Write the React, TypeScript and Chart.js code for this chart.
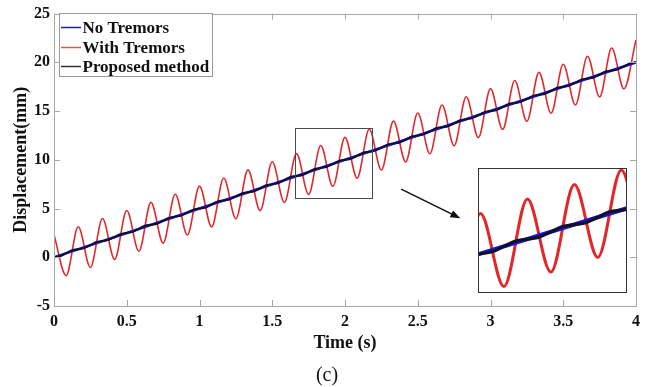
import { useEffect, useRef } from 'react';
import { Chart, registerables } from 'chart.js';

Chart.register(...registerables);

// Sample times (s) of the tremor peaks / troughs
const redTime = [
  0, 0.0833, 0.1667, 0.25, 0.3333, 0.4167, 0.5, 0.5833, 0.6667, 0.75, 0.8333, 0.9167,
  1, 1.0833, 1.1667, 1.25, 1.3333, 1.4167, 1.5, 1.5833, 1.6667, 1.75, 1.8333, 1.9167,
  2, 2.0833, 2.1667, 2.25, 2.3333, 2.4167, 2.5, 2.5833, 2.6667, 2.75, 2.8333, 2.9167,
  3, 3.0833, 3.1667, 3.25, 3.3333, 3.4167, 3.5, 3.5833, 3.6667, 3.75, 3.8333, 3.9167,
  4,
];
// With Tremors (mm)
const withTremors = [
  2.3, -1.88, 3.13, -1.05, 3.97, -0.22, 4.8, 0.62, 5.63, 1.45, 6.47, 2.28,
  7.3, 3.12, 8.13, 3.95, 8.97, 4.78, 9.8, 5.62, 10.63, 6.45, 11.47, 7.28,
  12.3, 8.12, 13.13, 8.95, 13.97, 9.78, 14.8, 10.62, 15.63, 11.45, 16.47, 12.28,
  17.3, 13.12, 18.13, 13.95, 18.97, 14.78, 19.8, 15.62, 20.63, 16.45, 21.47, 17.28,
  22.3,
];

// Sample times (s) of the proposed-method estimate
const fineTime = [
  0, 0.0417, 0.0833, 0.125, 0.1667, 0.2083, 0.25, 0.2917, 0.3333, 0.375, 0.4167, 0.4583,
  0.5, 0.5417, 0.5833, 0.625, 0.6667, 0.7083, 0.75, 0.7917, 0.8333, 0.875, 0.9167, 0.9583,
  1, 1.0417, 1.0833, 1.125, 1.1667, 1.2083, 1.25, 1.2917, 1.3333, 1.375, 1.4167, 1.4583,
  1.5, 1.5417, 1.5833, 1.625, 1.6667, 1.7083, 1.75, 1.7917, 1.8333, 1.875, 1.9167, 1.9583,
  2, 2.0417, 2.0833, 2.125, 2.1667, 2.2083, 2.25, 2.2917, 2.3333, 2.375, 2.4167, 2.4583,
  2.5, 2.5417, 2.5833, 2.625, 2.6667, 2.7083, 2.75, 2.7917, 2.8333, 2.875, 2.9167, 2.9583,
  3, 3.0417, 3.0833, 3.125, 3.1667, 3.2083, 3.25, 3.2917, 3.3333, 3.375, 3.4167, 3.4583,
  3.5, 3.5417, 3.5833, 3.625, 3.6667, 3.7083, 3.75, 3.7917, 3.8333, 3.875, 3.9167, 3.9583,
  4,
];
// Proposed method (mm)
const proposedMethod = [
  0.0, 0.11, 0.42, 0.73, 0.83, 0.94, 1.25, 1.56, 1.67, 1.78, 2.08, 2.39,
  2.5, 2.61, 2.92, 3.23, 3.33, 3.44, 3.75, 4.06, 4.17, 4.28, 4.58, 4.89,
  5.0, 5.11, 5.42, 5.73, 5.83, 5.94, 6.25, 6.56, 6.67, 6.78, 7.08, 7.39,
  7.5, 7.61, 7.92, 8.23, 8.33, 8.44, 8.75, 9.06, 9.17, 9.28, 9.58, 9.89,
  10.0, 10.11, 10.42, 10.73, 10.83, 10.94, 11.25, 11.56, 11.67, 11.78, 12.08, 12.39,
  12.5, 12.61, 12.92, 13.23, 13.33, 13.44, 13.75, 14.06, 14.17, 14.28, 14.58, 14.89,
  15.0, 15.11, 15.42, 15.73, 15.83, 15.94, 16.25, 16.56, 16.67, 16.78, 17.08, 17.39,
  17.5, 17.61, 17.92, 18.23, 18.33, 18.44, 18.75, 19.06, 19.17, 19.28, 19.58, 19.89,
  20.0,
];

// No Tremors (mm)
const blueTime = [0, 0.5, 1, 1.5, 2, 2.5, 3, 3.5, 4];
const noTremors = [0, 2.5, 5, 7.5, 10, 12.5, 15, 17.5, 20];

const xTickValues = [0, 0.5, 1, 1.5, 2, 2.5, 3, 3.5, 4];
const yTickValues = [-5, 0, 5, 10, 15, 20, 25];
const seriesLabels = ['No Tremors', 'With Tremors', 'Proposed method'];

// zoom window shown in the inset
const zoomX = [1.658, 2.187];
const zoomY = [6.08, 13.24];

const RED = '#e3262a';
const BLUE = '#1616d8';
const BLACK = '#10102a';
const SERIF = '"Liberation Serif", "Times New Roman", serif';

const pts = (xs: number[], ys: number[]) => xs.map((x, i) => ({ x, y: ys[i] }));

function makeDatasets(scale: number, redScale: number) {
  return [
    {
      label: seriesLabels[2],
      data: pts(fineTime, proposedMethod),
      borderColor: BLACK,
      borderWidth: 2 * scale,
      pointRadius: 0,
      cubicInterpolationMode: 'monotone' as const,
    },
    {
      label: seriesLabels[0],
      data: pts(blueTime, noTremors),
      borderColor: BLUE,
      borderWidth: 2.6 * scale,
      pointRadius: 0,
      tension: 0,
    },
    {
      label: seriesLabels[1],
      data: pts(redTime, withTremors),
      borderColor: RED,
      borderWidth: 1.5 * redScale,
      pointRadius: 0,
      cubicInterpolationMode: 'monotone' as const,
    },
  ];
}

const framePlugin = {
  id: 'frame',
  afterDatasetsDraw(chart: any) {
    const { ctx, scales } = chart;
    const x = scales.x, y = scales.y;
    // zoom rectangle
    ctx.save();
    ctx.strokeStyle = '#4a4a4a';
    ctx.lineWidth = 1;
    const x0 = x.getPixelForValue(zoomX[0]);
    const x1 = x.getPixelForValue(zoomX[1]);
    const y0 = y.getPixelForValue(zoomY[1]);
    const y1 = y.getPixelForValue(zoomY[0]);
    ctx.strokeRect(Math.round(x0) + 0.5, Math.round(y0) + 0.5, Math.round(x1 - x0), Math.round(y1 - y0));
    // arrow
    const ax0 = x.getPixelForValue(2.386), ay0 = y.getPixelForValue(6.99);
    const ax1 = x.getPixelForValue(2.793), ay1 = y.getPixelForValue(4.0);
    const ang = Math.atan2(ay1 - ay0, ax1 - ax0);
    ctx.strokeStyle = '#111';
    ctx.fillStyle = '#111';
    ctx.lineWidth = 1.6;
    ctx.beginPath();
    ctx.moveTo(ax0, ay0);
    ctx.lineTo(ax1 - 6 * Math.cos(ang), ay1 - 6 * Math.sin(ang));
    ctx.stroke();
    ctx.beginPath();
    ctx.moveTo(ax1, ay1);
    ctx.lineTo(ax1 - 10 * Math.cos(ang) + 3.8 * Math.sin(ang), ay1 - 10 * Math.sin(ang) - 3.8 * Math.cos(ang));
    ctx.lineTo(ax1 - 10 * Math.cos(ang) - 3.8 * Math.sin(ang), ay1 - 10 * Math.sin(ang) + 3.8 * Math.cos(ang));
    ctx.closePath();
    ctx.fill();
    ctx.restore();
  },
  afterDraw(chart: any) {
    const { ctx, chartArea: a, scales } = chart;
    ctx.save();
    // axes box
    ctx.strokeStyle = '#a8a8a8';
    ctx.lineWidth = 1;
    ctx.strokeRect(Math.round(a.left) + 0.5, Math.round(a.top) + 0.5, Math.round(a.right - a.left), Math.round(a.bottom - a.top));
    // inward ticks on all four sides
    ctx.beginPath();
    for (const v of xTickValues) {
      const px = Math.round(scales.x.getPixelForValue(v)) + 0.5;
      ctx.moveTo(px, a.bottom);
      ctx.lineTo(px, a.bottom - 6);
      ctx.moveTo(px, a.top);
      ctx.lineTo(px, a.top + 6);
    }
    for (const v of yTickValues) {
      const py = Math.round(scales.y.getPixelForValue(v)) + 0.5;
      ctx.moveTo(a.left, py);
      ctx.lineTo(a.left + 6, py);
      ctx.moveTo(a.right, py);
      ctx.lineTo(a.right - 6, py);
    }
    ctx.stroke();

    // legend
    const lx = 59, ly = 13, lw = 153, lh = 63;
    ctx.fillStyle = '#fff';
    ctx.fillRect(lx, ly, lw, lh);
    ctx.strokeStyle = '#9a9a9a';
    ctx.strokeRect(lx + 0.5, ly + 0.5, lw, lh);
    const entries = [
      { text: seriesLabels[0], color: BLUE, y: 27.5 },
      { text: seriesLabels[1], color: '#e85050', y: 47.5 },
      { text: seriesLabels[2], color: '#333', y: 66.5 },
    ];
    ctx.font = `bold 17px ${SERIF}`;
    ctx.textBaseline = 'middle';
    ctx.textAlign = 'left';
    for (const e of entries) {
      ctx.strokeStyle = e.color;
      ctx.lineWidth = 1.5;
      ctx.beginPath();
      ctx.moveTo(61, e.y);
      ctx.lineTo(81, e.y);
      ctx.stroke();
      ctx.fillStyle = '#111';
      ctx.fillText(e.text, 82.5, e.y + 1);
    }

    // axis titles and caption
    ctx.fillStyle = '#111';
    ctx.textAlign = 'center';
    ctx.font = `bold 18px ${SERIF}`;
    ctx.fillText('Time (s)', (a.left + a.right) / 2, 343);
    ctx.save();
    ctx.translate(21, (a.top + a.bottom) / 2);
    ctx.rotate(-Math.PI / 2);
    ctx.fillText('Displacement(mm)', 0, 0);
    ctx.restore();
    ctx.font = `20px ${SERIF}`;
    ctx.fillText('(c)', 327, 376);
    ctx.restore();
  },
};

const insetPlugin = {
  id: 'insetFrame',
  afterDraw(chart: any) {
    const { ctx, width, height } = chart;
    ctx.save();
    ctx.strokeStyle = '#333';
    ctx.lineWidth = 1;
    ctx.strokeRect(0.5, 0.5, width - 1, height - 1);
    ctx.restore();
  },
};

export default function App() {
  const mainRef = useRef<HTMLCanvasElement>(null);
  const insetRef = useRef<HTMLCanvasElement>(null);

  useEffect(() => {
    const tickFont = { family: SERIF, size: 16, weight: 'bold' as const };
    const main = new Chart(mainRef.current!, {
      type: 'line',
      data: { datasets: makeDatasets(1, 1.05) as any },
      options: {
        responsive: false,
        animation: false,
        devicePixelRatio: 1,
        layout: { padding: { top: 11, right: 9, left: 0, bottom: 0 } },
        plugins: { legend: { display: false }, tooltip: { enabled: false } },
        scales: {
          x: {
            type: 'linear',
            min: 0,
            max: 4,
            afterBuildTicks: (s: any) => { s.ticks = xTickValues.map((v) => ({ value: v })); },
            afterFit: (s: any) => { s.height = 81; },
            ticks: { font: tickFont, color: '#111', padding: 6, maxRotation: 0, autoSkip: false, callback: (v: any) => String(v) },
            grid: { display: false, drawTicks: false },
            border: { display: false },
          },
          y: {
            type: 'linear',
            min: -5,
            max: 25,
            afterBuildTicks: (s: any) => { s.ticks = yTickValues.map((v) => ({ value: v })); },
            afterFit: (s: any) => { s.width = 54; },
            ticks: { font: tickFont, color: '#111', padding: 4, autoSkip: false, callback: (v: any) => String(v) },
            grid: { display: false, drawTicks: false },
            border: { display: false },
          },
        },
      },
      plugins: [framePlugin],
    });

    const inset = new Chart(insetRef.current!, {
      type: 'line',
      data: { datasets: makeDatasets(1.6, 2.0) as any },
      options: {
        responsive: false,
        animation: false,
        devicePixelRatio: 1,
        layout: { padding: 0 },
        plugins: { legend: { display: false }, tooltip: { enabled: false } },
        scales: {
          x: { type: 'linear', min: zoomX[0], max: zoomX[1], display: false },
          y: { type: 'linear', min: zoomY[0], max: zoomY[1], display: false },
        },
      },
      plugins: [insetPlugin],
    });

    return () => {
      main.destroy();
      inset.destroy();
    };
  }, []);

  return (
    <div style={{ position: 'fixed', left: 0, top: 0, width: 646, height: 387, background: '#fff' }}>
      <canvas ref={mainRef} width={646} height={387} style={{ position: 'absolute', left: 0, top: 0 }} />
      <div style={{ position: 'absolute', left: 478, top: 168, width: 149, height: 125, background: '#fff' }}>
        <canvas ref={insetRef} width={149} height={125} />
      </div>
    </div>
  );
}
